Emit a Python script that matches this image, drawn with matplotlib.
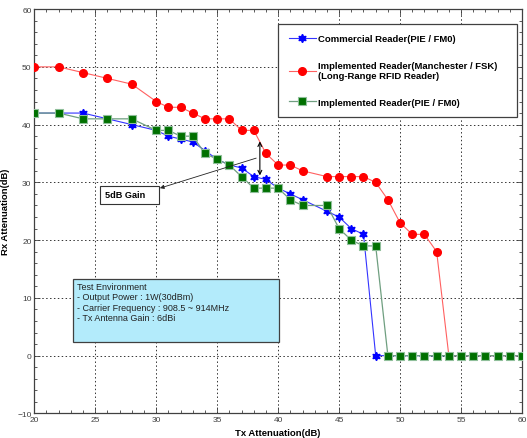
# Rx vs Tx attenuation for the three readers
import numpy as np
import matplotlib
matplotlib.use("Agg")
import matplotlib.pyplot as plt
from matplotlib.patches import Rectangle
from matplotlib.ticker import MultipleLocator

plt.rcParams['font.family'] = ['Liberation Sans', 'DejaVu Sans']

# Commercial Reader(PIE / FM0)
blue_x = [20, 22, 24, 26, 28, 30, 31, 32, 33, 34, 35, 36, 37, 38, 39, 40, 41, 42,
          44, 45, 46, 47, 48, 49, 50, 51, 52, 53, 54, 55, 56, 57, 58, 59, 60]
blue_y = [42, 42, 42, 41, 40, 39, 38, 37.5, 37, 35.5, 34, 33, 32.5, 31, 30.5, 29, 28, 27,
          25, 24, 22, 21, 0, 0, 0, 0, 0, 0, 0, 0, 0, 0, 0, 0, 0]

# Implemented Reader(Manchester / FSK)
red_x = [20, 22, 24, 26, 28, 30, 31, 32, 33, 34, 35, 36, 37, 38, 39, 40, 41, 42,
         44, 45, 46, 47, 48, 49, 50, 51, 52, 53, 54, 55, 56, 57, 58, 59, 60]
red_y = [50, 50, 49, 48, 47, 44, 43, 43, 42, 41, 41, 41, 39, 39, 35, 33, 33, 32,
         31, 31, 31, 31, 30, 27, 23, 21, 21, 18, 0, 0, 0, 0, 0, 0, 0]

# Implemented Reader(PIE / FM0)
green_x = [20, 22, 24, 26, 28, 30, 31, 32, 33, 34, 35, 36, 37, 38, 39, 40, 41, 42,
           44, 45, 46, 47, 48, 49, 50, 51, 52, 53, 54, 55, 56, 57, 58, 59, 60]
green_y = [42, 42, 41, 41, 41, 39, 39, 38, 38, 35, 34, 33, 31, 29, 29, 29, 27, 26,
           26, 22, 20, 19, 19, 0, 0, 0, 0, 0, 0, 0, 0, 0, 0, 0, 0]

labels = ["Commercial Reader(PIE / FM0)",
          "Implemented Reader(Manchester / FSK)\n(Long-Range RFID Reader)",
          "Implemented Reader(PIE / FM0)"]

env_text = ("Test Environment\n- Output Power : 1W(30dBm)\n"
            "- Carrier Frequency : 908.5 ~ 914MHz\n- Tx Antenna Gain : 6dBi")

fig = plt.figure(figsize=(5.27, 4.39), dpi=100)
ax = fig.add_axes([0.0651, 0.056, 0.9254, 0.921])

ax.plot(blue_x, blue_y, color="#3333ff", lw=0.8, marker=(6, 1, 0), ms=6,
        mfc="blue", mec="blue", label=labels[0], zorder=3)
ax.plot(red_x, red_y, color="#ff6060", lw=0.8, marker="o", ms=5.5,
        mfc="red", mec="red", label=labels[1], zorder=4)
ax.plot(green_x, green_y, color="#6f9f80", lw=0.9, marker="s", ms=5.2,
        mfc="#007000", mec="#8fbf9a", mew=0.8, label=labels[2], zorder=5)

ax.set_xlim(20, 60)
ax.set_ylim(-10, 60)
ax.xaxis.set_major_locator(MultipleLocator(5))
ax.xaxis.set_minor_locator(MultipleLocator(1))
ax.yaxis.set_major_locator(MultipleLocator(10))
ax.yaxis.set_minor_locator(MultipleLocator(2))
ax.tick_params(which="both", direction="in", top=True, right=True,
               labelsize=6, labelcolor="#404040", color="#404040", width=0.6,
               pad=2)
ax.tick_params(which="major", length=4)
ax.tick_params(which="minor", length=2.5)
ax.grid(True, which="major", linestyle=(0, (1.5, 2.5)), color="#333333", lw=0.7)
for sp in ax.spines.values():
    sp.set_color("#404040")
    sp.set_linewidth(0.9)

ax.set_xlabel("Tx Attenuation(dB)", fontsize=6.8, fontweight="bold")
ax.set_ylabel("Rx Attenuation(dB)", fontsize=6.8, fontweight="bold")
ax.xaxis.set_label_coords(0.5, -0.036)
ax.yaxis.set_label_coords(-0.05, 0.5)

leg = ax.legend(loc="upper left", bbox_to_anchor=(0.5003, 0.742, 0.489, 0.221),
                mode="expand", prop={"weight": "bold", "size": 6.8},
                fancybox=False, edgecolor="#404040", framealpha=1,
                labelspacing=1.85, handlelength=2.9, borderpad=1.1,
                handletextpad=0.25, borderaxespad=0)
leg.get_frame().set_linewidth(0.9)

# 5dB gain marker
ax.annotate("", xy=(38.5, 31.2), xytext=(38.5, 37.1),
            arrowprops=dict(arrowstyle="<->", color="black", lw=0.8,
                            mutation_scale=7, shrinkA=0, shrinkB=0), zorder=8)
ax.annotate("", xy=(30.3, 29.0), xytext=(38.2, 34.2),
            arrowprops=dict(arrowstyle="-|>", color="#222222", lw=0.6,
                            mutation_scale=6, shrinkA=0, shrinkB=0), zorder=8)
ax.add_patch(Rectangle((25.4, 26.3), 4.8, 3.1, facecolor="white",
                       edgecolor="#333333", lw=0.8, zorder=7))
ax.text(25.8, 27.85, "5dB Gain", fontsize=6.6, fontweight="bold", ha="left",
        va="center", zorder=8)

# test environment box
ax.add_patch(Rectangle((23.2, 2.3), 16.9, 11.0, facecolor="#b3ebfb",
                       edgecolor="#404040", lw=0.9, zorder=6))
ax.text(23.5, 12.8, env_text, fontsize=6.5, color="#222222", va="top",
        ha="left", linespacing=1.2, zorder=7)

fig.savefig("out.png", dpi=100)
